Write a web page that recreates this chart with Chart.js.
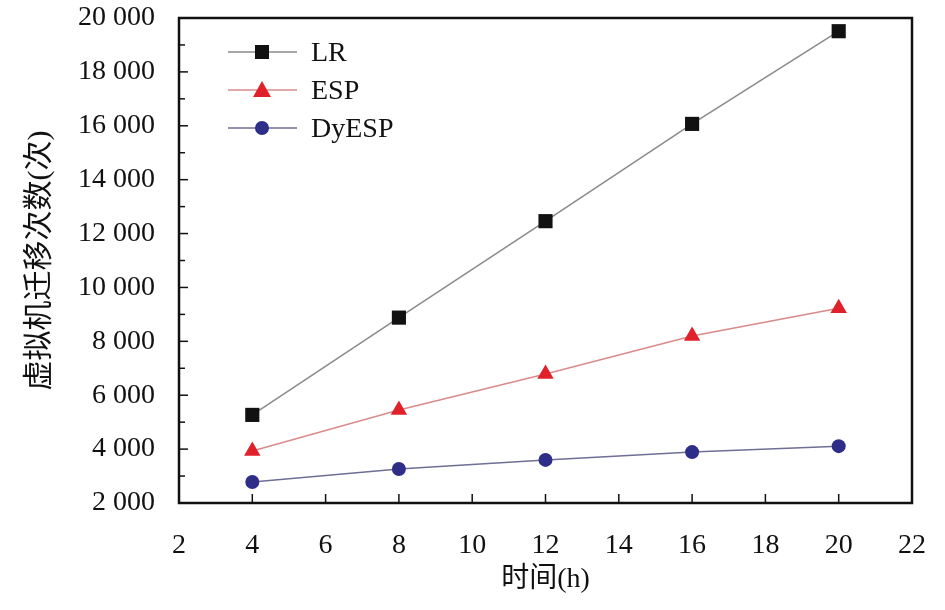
<!DOCTYPE html>
<html><head><meta charset="utf-8">
<script src="https://cdn.jsdelivr.net/npm/chart.js@4"></script>
<style>html,body{margin:0;padding:0;background:#fff}#wrap{width:945px;height:610px}</style>
</head><body><div id="wrap"><canvas id="c"></canvas></div>
<script>
const hours = [4, 8, 12, 16, 20];
const lrValues = [5270, 8880, 12460, 16070, 19510];
const espValues = [3930, 5450, 6790, 8200, 9230];
const dyespValues = [2780, 3260, 3600, 3890, 4110];
const seriesNames = ['LR', 'ESP', 'DyESP'];
const xTitle = '时间(h)';
const yTitle = '虚拟机迁移次数(次)';

const FONT = '"Liberation Serif","Times New Roman","Noto Sans CJK SC",serif';

function fmt(v){ return String(v).replace(/\B(?=(\d{3})+(?!\d))/g,' '); }

const frame = {
  id:'frame',
  afterDraw(chart){
    const {ctx, chartArea:a, scales:{x,y}} = chart;
    ctx.save();
    ctx.strokeStyle='#111';
    ctx.lineWidth=1.5;
    for(let v=2; v<=22; v+=2){
      const px=x.getPixelForValue(v);
      ctx.beginPath();ctx.moveTo(px,a.bottom);ctx.lineTo(px,a.bottom-9);ctx.stroke();
    }
    for(let v=2000; v<=20000; v+=1000){
      const py=y.getPixelForValue(v);
      const len = (v%2000===0)?9:6;
      ctx.beginPath();ctx.moveTo(a.left,py);ctx.lineTo(a.left+len,py);ctx.stroke();
    }
    ctx.lineWidth=2.5;
    ctx.strokeRect(a.left,a.top,a.right-a.left,a.bottom-a.top);
    // legend
    const ds = chart.data.datasets;
    ctx.font='28px '+FONT;
    ctx.textBaseline='middle';
    ds.forEach((d,i)=>{
      const cy=52+i*38;
      ctx.strokeStyle=d.borderColor; ctx.lineWidth=1.5;
      ctx.beginPath();ctx.moveTo(228,cy);ctx.lineTo(297,cy);ctx.stroke();
      ctx.fillStyle=d.pointBackgroundColor;
      if(d.pointStyle==='rect'){ctx.fillRect(262-7,cy-7,14,14);}
      else if(d.pointStyle==='triangle'){ctx.beginPath();ctx.moveTo(262,cy-9);ctx.lineTo(271,cy+7);ctx.lineTo(253,cy+7);ctx.closePath();ctx.fill();}
      else {ctx.beginPath();ctx.arc(262,cy,7,0,Math.PI*2);ctx.fill();}
      ctx.fillStyle='#111';
      ctx.fillText(d.label,311,cy+2);
    });
    ctx.restore();
  }
};

new Chart(document.getElementById('c'),{
  type:'line',
  data:{
    datasets:[
      {label:seriesNames[0],data:hours.map((h,i)=>({x:h,y:lrValues[i]})),borderColor:'#8a8a8a',borderWidth:1.5,pointStyle:'rect',pointRadius:10,pointBackgroundColor:'#111',pointBorderColor:'#111',pointBorderWidth:0},
      {label:seriesNames[1],data:hours.map((h,i)=>({x:h,y:espValues[i]})),borderColor:'#d98a8a',borderWidth:1.5,pointStyle:'triangle',pointRadius:9.5,pointBackgroundColor:'#e0202a',pointBorderColor:'#e0202a',pointBorderWidth:0},
      {label:seriesNames[2],data:hours.map((h,i)=>({x:h,y:dyespValues[i]})),borderColor:'#6e6e96',borderWidth:1.5,pointStyle:'circle',pointRadius:7,pointBackgroundColor:'#2e2e88',pointBorderColor:'#2e2e88',pointBorderWidth:0}
    ]
  },
  options:{
    responsive:true,maintainAspectRatio:false,animation:false,
    layout:{padding:{left:0,right:33,top:18,bottom:0}},
    plugins:{legend:{display:false},tooltip:{enabled:false}},
    scales:{
      x:{type:'linear',min:2,max:22,
        ticks:{stepSize:2,color:'#111',font:{family:FONT,size:28},padding:26},
        grid:{display:false,drawTicks:false},border:{display:false},
        title:{display:true,text:xTitle,color:'#111',font:{family:FONT,size:28},padding:{top:8,bottom:14}},
        afterFit(s){s.height=107;s.paddingLeft=0;s.paddingRight=0;}
      },
      y:{type:'linear',min:2000,max:20000,
        ticks:{stepSize:2000,color:'#111',font:{family:FONT,size:28},padding:24,callback:v=>fmt(v)},
        grid:{display:false,drawTicks:false},border:{display:false},
        title:{display:true,text:yTitle,color:'#111',font:{family:FONT,size:30},padding:{top:22,bottom:14}},
        afterFit(s){s.width=179;s.paddingTop=0;s.paddingBottom=0;}
      }
    }
  },
  plugins:[frame]
});
</script></body></html>
